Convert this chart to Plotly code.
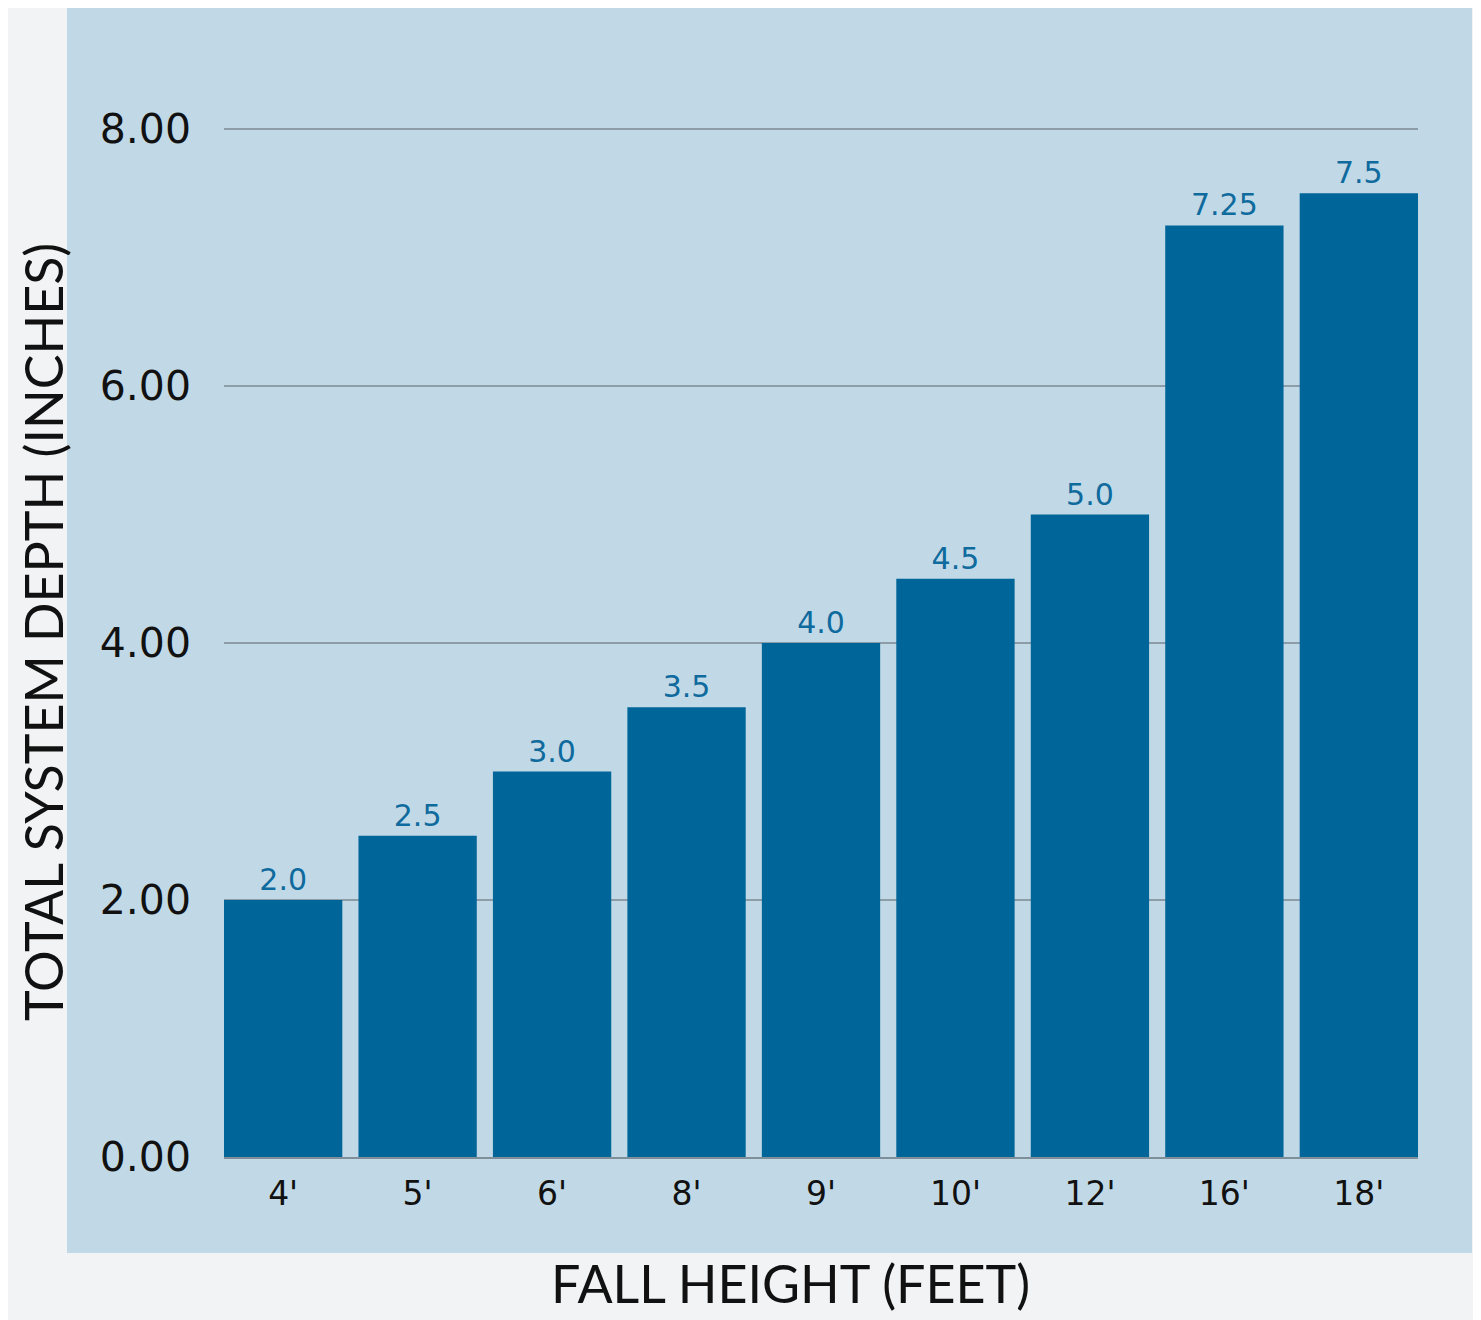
import plotly.graph_objects as go

categories = ["4'", "5'", "6'", "8'", "9'", "10'", "12'", "16'", "18'"]
depths = [2.0, 2.5, 3.0, 3.5, 4.0, 4.5, 5.0, 7.25, 7.5]
value_labels = ["2.0", "2.5", "3.0", "3.5", "4.0", "4.5", "5.0", "7.25", "7.5"]
y_ticks = [0, 2, 4, 6, 8]
y_tick_labels = ["0.00", "2.00", "4.00", "6.00", "8.00"]

OFF = 8  # browser body margin
W, H = 1481 - OFF, 1320 - OFF
L, R, T, B = 224 - OFF, 63, 0, 163
PW, PH = W - L - R, H - T - B


def px_x(page_x):
    return (page_x - OFF - L) / PW


def px_y(page_y):
    return 1 - (page_y - OFF - T) / PH


fig = go.Figure()
fig.add_trace(go.Bar(
    x=list(range(len(categories))), y=depths,
    text=value_labels, textposition="outside",
    textfont=dict(family="DejaVu Sans", size=30, color="#0f6a9d"),
    marker=dict(color="#006699", line=dict(width=0)),
    cliponaxis=False,
))

fig.update_layout(
    width=W, height=H,
    margin=dict(l=L, r=R, t=T, b=B),
    paper_bgcolor="#f1f3f4",
    plot_bgcolor="rgba(0,0,0,0)",
    bargap=0.12,
    showlegend=False,
    shapes=[dict(type="rect", xref="paper", yref="paper",
                 x0=px_x(67), x1=px_x(1472),
                 y0=px_y(1253), y1=1.0,
                 fillcolor="#c1d9e6", line=dict(width=0), layer="below")],
    xaxis=dict(
        range=[-0.44, len(categories) - 1 + 0.44],
        tickvals=list(range(len(categories))), ticktext=categories,
        tickfont=dict(family="DejaVu Sans", size=33, color="#111111"),
        showgrid=False, showline=True, linecolor="#7f8f9a", linewidth=2,
        ticks="", ticklabelstandoff=6,
    ),
    yaxis=dict(
        range=[0, 8 + (129 - OFF) / 128.5], tickvals=y_ticks, ticktext=y_tick_labels,
        tickfont=dict(family="DejaVu Sans", size=41, color="#111111"),
        showgrid=True, gridcolor="#8d9da8", gridwidth=1.5,
        zeroline=False, showline=False, ticks="", ticklabelstandoff=32,
    ),
    annotations=[
        dict(text="FALL HEIGHT (FEET)", xref="paper", yref="paper",
             x=px_x(790), y=px_y(1283),
             showarrow=False, xanchor="center", yanchor="middle",
             font=dict(family="Lato", size=52, color="#111111")),
        dict(text="TOTAL SYSTEM DEPTH (INCHES)", xref="paper", yref="paper",
             x=px_x(43), y=px_y(632),
             textangle=-90, showarrow=False, xanchor="center", yanchor="middle",
             font=dict(family="Lato", size=52, color="#111111")),
    ],
)

fig.write_html("out.html")
